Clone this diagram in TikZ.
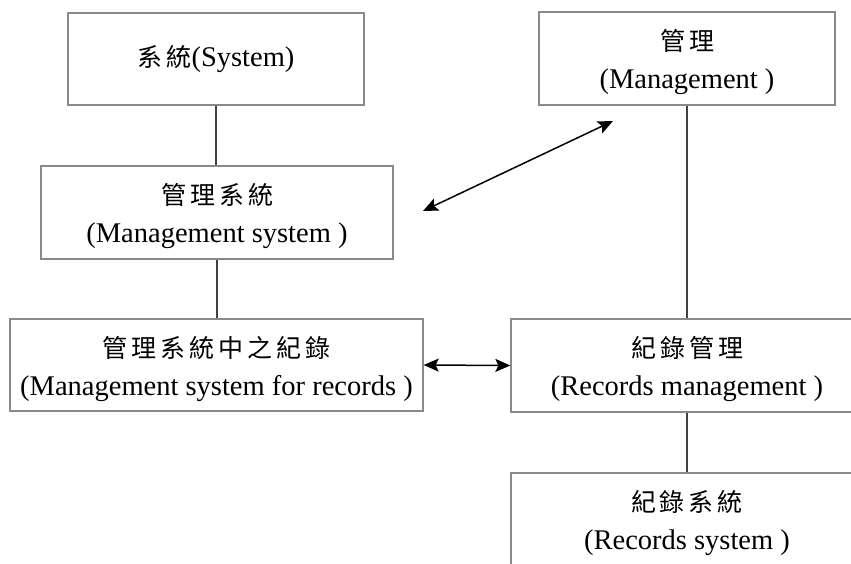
\documentclass[tikz,border=0pt]{standalone}
\usepackage{fontspec}
\setmainfont{Liberation Serif}
\newfontfamily\zhfont{Noto Sans CJK TC}[LetterSpace=16]
\usetikzlibrary{arrows.meta}
\definecolor{boxgray}{HTML}{8A8A8A}
\definecolor{linegray}{HTML}{404040}
% Chinese line of a label, slightly letter-spaced
\newcommand\zh[1]{{\zhfont\fontsize{25}{38}\selectfont #1}}
% strut that lowers a two-line label inside its box
\newcommand\toprule{\rule{0pt}{29pt}}
\begin{document}
\begin{tikzpicture}[x=1pt,y=-1pt,
  box/.style={draw=boxgray, line width=1.3pt, inner sep=0pt, align=center,
              font=\fontsize{28.5}{38}\selectfont},
  link/.style={draw=linegray, line width=1.4pt},
  twoway/.style={draw=black, line width=1.5pt,
                 {Stealth[length=15pt,width=13pt,inset=3pt]}-{Stealth[length=15pt,width=13pt,inset=3pt]}}]
\clip (0,0) rectangle (851,563);

\node[box, minimum width=296pt, minimum height=92pt] (sys) at (216,59)
  {\zh{系統}(System)};
\node[box, minimum width=296pt, minimum height=93pt] (mgmt) at (687,58.5)
  {\toprule\zh{管理}\\(Management )};
\node[box, minimum width=352pt, minimum height=93pt] (ms) at (217,212.5)
  {\toprule\zh{管理系統}\\(Management system )};
\node[box, minimum width=413pt, minimum height=92pt] (msr) at (216.5,365)
  {\toprule\zh{管理系統中之紀錄}\\(Management system for records )};
\node[box, minimum width=352pt, minimum height=93pt] (rm) at (687,365.5)
  {\toprule\zh{紀錄管理}\\(Records management )};
\node[box, minimum width=352pt, minimum height=93pt] (rs) at (687,519.5)
  {\toprule\zh{紀錄系統}\\(Records system )};

% hierarchy links
\draw[link] (sys.south) -- (sys.south |- ms.north);
\draw[link] (ms.south) -- (ms.south |- msr.north);
\draw[link] (mgmt.south) -- (mgmt.south |- rm.north);
\draw[link] (rm.south) -- (rm.south |- rs.north);

% two-way relations
\coordinate (da) at (423,211);
\coordinate (db) at (613,121);
\draw[twoway] (da) -- (db);
\draw[twoway] (msr.east) -- (rm.west);
\end{tikzpicture}
\end{document}
